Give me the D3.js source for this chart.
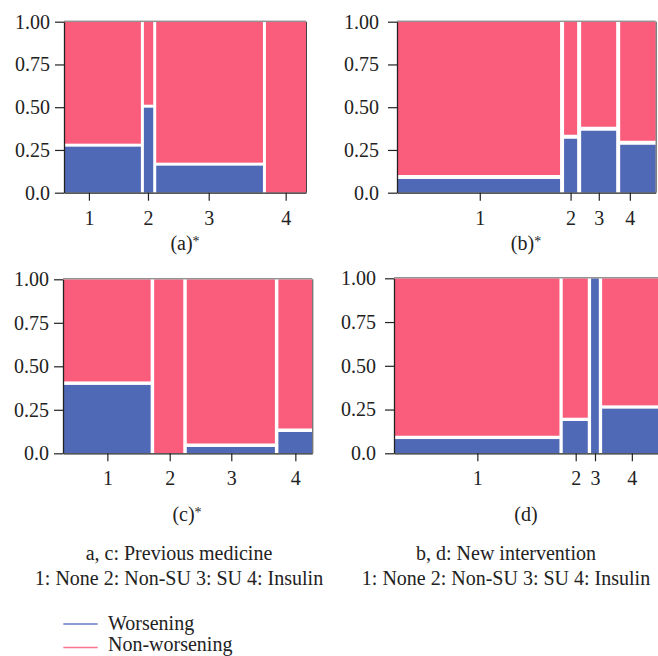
<!DOCTYPE html>
<html>
<head>
<meta charset="utf-8">
<script src="https://cdn.jsdelivr.net/npm/d3@7"></script>
<style>
  html, body { margin: 0; padding: 0; background: #fff; }
  svg { display: block; }
  text { font-family: "Liberation Serif", "DejaVu Serif", serif; fill: #222; }
</style>
</head>
<body>
<svg id="chart" width="658" height="656"></svg>
<script>
// ---------- data ----------
const categories = ["1", "2", "3", "4"];
const seriesNames = ["Worsening", "Non-worsening"];
const yTickValues = [0, 0.25, 0.5, 0.75, 1];
const yTickLabels = ["0.0", "0.25", "0.50", "0.75", "1.00"];

// share of patients in each category (tile widths)
const sharesA = [0.330, 0.040, 0.458, 0.172];
const sharesB = [0.661, 0.053, 0.142, 0.145];
const sharesC = [0.367, 0.122, 0.369, 0.142];
const sharesD = [0.641, 0.097, 0.030, 0.231];

// proportion of "Worsening" in each category
const worseA = [0.274, 0.506, 0.161, 0.0];
const worseB = [0.082, 0.323, 0.371, 0.287];
const worseC = [0.401, 0.0, 0.037, 0.125];
const worseD = [0.083, 0.188, 1.0, 0.260];

// x tick positions (fraction of panel width) as printed
const ticksA = [0.103, 0.347, 0.598, 0.916];
const ticksB = [0.320, 0.671, 0.780, 0.900];
const ticksC = [0.178, 0.428, 0.675, 0.932];
const ticksD = [0.311, 0.678, 0.750, 0.8875];

const panelTitles = ["(a)", "(b)", "(c)", "(d)"];
const panelStars = ["*", "*", "*", ""];
const footLeft = ["a, c: Previous medicine", "1: None 2: Non-SU 3: SU 4: Insulin"];
const footRight = ["b, d: New intervention", "1: None 2: Non-SU 3: SU 4: Insulin"];

// ---------- layout ----------
const colors = { worse: "#4f69b7", non: "#fa5c7b" };
const panels = [
  { shares: sharesA, worse: worseA, ticks: ticksA, x0: 64,  x1: 306,   top: 21.7,  bottom: 192.7, gap: 3,   pad: 5, tcx: 185, tby: 250 },
  { shares: sharesB, worse: worseB, ticks: ticksB, x0: 397, x1: 655.7, top: 21.7,  bottom: 192.7, gap: 4,   pad: 9, tcx: 526, tby: 250 },
  { shares: sharesC, worse: worseC, ticks: ticksC, x0: 63,  x1: 312.3, top: 279.3, bottom: 453.3, gap: 3.5, pad: 5, tcx: 187, tby: 521 },
  { shares: sharesD, worse: worseD, ticks: ticksD, x0: 394, x1: 662,   top: 278.3, bottom: 453.3, gap: 3.3, pad: 9, tcx: 526, tby: 521 }
];

const svg = d3.select("#chart");

panels.forEach((p, pi) => {
  const g = svg.append("g");
  const n = p.shares.length;
  const W = p.x1 - p.x0;
  const H = p.bottom - p.top;

  const xAxisScale = d3.scaleLinear().domain([0, 1]).range([p.x0, p.x1]);
  const yScale = d3.scaleLinear().domain([0, 1]).range([p.bottom, p.top]);
  const wScale = d3.scaleLinear().domain([0, 1]).range([0, W - (n - 1) * p.gap]);
  const hScale = d3.scaleLinear().domain([0, 1]).range([0, H - p.gap]);

  const cum = d3.cumsum(p.shares);
  const tiles = p.shares.map((s, i) => {
    const start = i === 0 ? 0 : cum[i - 1];
    return { x: p.x0 + wScale(start) + i * p.gap, w: wScale(s), q: p.worse[i] };
  });

  const clipId = "clip" + pi;
  svg.append("clipPath").attr("id", clipId).append("rect")
    .attr("x", p.x0).attr("y", p.top).attr("width", W).attr("height", H);
  const bars = g.append("g").attr("clip-path", `url(#${clipId})`);

  tiles.forEach(t => {
    if (t.q <= 0) {
      bars.append("rect").attr("x", t.x).attr("y", yScale(1)).attr("width", t.w)
        .attr("height", yScale(0) - yScale(1)).attr("fill", colors.non);
    } else if (t.q >= 1) {
      bars.append("rect").attr("x", t.x).attr("y", yScale(1)).attr("width", t.w)
        .attr("height", yScale(0) - yScale(1)).attr("fill", colors.worse);
    } else {
      const bh = hScale(t.q);
      bars.append("rect").attr("x", t.x).attr("y", p.bottom - bh).attr("width", t.w)
        .attr("height", bh).attr("fill", colors.worse);
      bars.append("rect").attr("x", t.x).attr("y", p.top).attr("width", t.w)
        .attr("height", hScale(1 - t.q)).attr("fill", colors.non);
    }
  });

  // top / right spines
  g.append("line").attr("x1", p.x0).attr("x2", p.x1).attr("y1", p.top - 0.5).attr("y2", p.top - 0.5)
    .attr("stroke", "#666").attr("stroke-width", 1);
  g.append("line").attr("x1", p.x1 + 0.5).attr("x2", p.x1 + 0.5).attr("y1", p.top).attr("y2", p.bottom)
    .attr("stroke", "#444").attr("stroke-width", 1);

  // axes
  const yAxis = d3.axisLeft(yScale).tickValues(yTickValues)
    .tickFormat((d, i) => yTickLabels[i]).tickSize(9).tickSizeOuter(0).tickPadding(p.pad);
  const ya = g.append("g").attr("transform", `translate(${p.x0},0)`).call(yAxis);

  const xAxis = d3.axisBottom(xAxisScale).tickValues(p.ticks)
    .tickFormat((d, i) => categories[i]).tickSize(8).tickSizeOuter(0).tickPadding(10);
  const xa = g.append("g").attr("transform", `translate(0,${p.bottom})`).call(xAxis);

  [ya, xa].forEach(a => {
    a.selectAll("path.domain").attr("stroke", "#222").attr("stroke-width", 1.3);
    a.selectAll(".tick line").attr("stroke", "#222").attr("stroke-width", 1.2);
    a.selectAll("text").attr("font-family", '"Liberation Serif", serif')
      .attr("font-size", 20).attr("fill", "#222");
  });

  const title = g.append("text").attr("x", p.tcx).attr("y", p.tby)
    .attr("text-anchor", "middle").attr("font-size", 20);
  title.append("tspan").text(panelTitles[pi]);
  if (panelStars[pi]) {
    title.append("tspan").attr("font-size", 14).attr("dy", -4).text(panelStars[pi]);
  }
});

// footer notes
const footY = [560, 585];
footLeft.forEach((t, i) => {
  svg.append("text").attr("x", 179).attr("y", footY[i]).attr("text-anchor", "middle")
    .attr("font-size", 20).text(t);
});
footRight.forEach((t, i) => {
  svg.append("text").attr("x", 506).attr("y", footY[i]).attr("text-anchor", "middle")
    .attr("font-size", 20).text(t);
});

// legend
const legendColors = [colors.worse, colors.non];
const legY = [624, 647.5];
const legTextY = [630, 651];
seriesNames.forEach((name, i) => {
  svg.append("line").attr("x1", 63.3).attr("x2", 97.7).attr("y1", legY[i]).attr("y2", legY[i])
    .attr("stroke", legendColors[i]).attr("stroke-width", 1.5).attr("opacity", 0.85);
  svg.append("text").attr("x", 108).attr("y", legTextY[i]).attr("font-size", 20).text(name);
});
</script>
</body>
</html>
